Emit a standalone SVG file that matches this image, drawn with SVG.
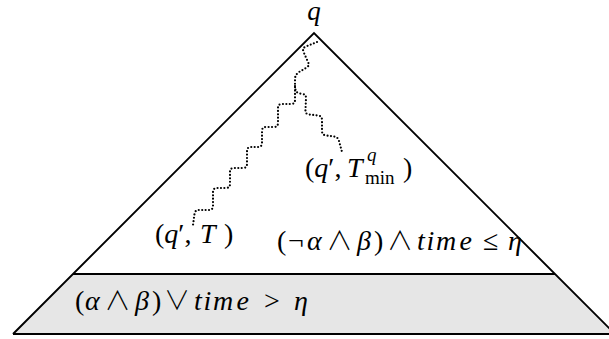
<svg xmlns="http://www.w3.org/2000/svg" width="609" height="339" viewBox="0 0 609 339">
<style>
.edge{fill:none;stroke:#000;stroke-width:1.9;stroke-linejoin:miter}
.band{fill:#e6e6e6;stroke:none}
.wave{fill:none;stroke:#000;stroke-width:2.2;stroke-linecap:round;stroke-linejoin:round;stroke-dasharray:0 3.4}
text{font-family:"Liberation Serif","Times New Roman",serif;font-size:28px;fill:#000}
.i{font-style:italic}
.s{font-size:19px}
.op{font-family:"Noto Sans CJK JP","Noto Sans CJK SC","DejaVu Serif",serif;font-weight:300;font-size:26px}
</style>
<rect width="609" height="339" fill="#fff"/>
<g id="tree">
<polygon class="band" points="73,274 555,274 615,334 13,334"/>
<polyline class="edge" points="13,334 314,33 615,334"/>
<line class="edge" x1="13" y1="334" x2="609" y2="334"/>
<line class="edge" x1="73" y1="274" x2="555" y2="274"/>
</g>
<g id="root">
<text class="i" x="314" y="20" text-anchor="middle" style="font-size:27px">q</text>
</g>
<g id="connectors">
<path class="wave" d="M317,42 L306,46.5 Q302,48 303.5,52 L308,62 Q310,66 306,68 L299,72 Q295,75 295,79 L295,100 Q295,104 291,104 L282,104 Q278,104 278,108 L278,123 Q278,127 274,127 L266,127 Q262,127 262,131 L262,143 Q262,147 258,147 L251,147 Q247,147 247,151 L247,164 Q247,168 243,168 L234,168 Q230,168 230,172 L230,184 Q230,188 226,188 L217,188 Q213,188 213,192 L213,206 Q213,210 209,210 L199,210 Q195,210 194.5,214 L193,225"/>
<path class="wave" d="M295,86 Q295,93 300,93.5 L302,94 Q306,94 306,98 L305.5,110 Q305,114 309,114.5 L318,115.5 Q322,116 322,120 L322,131 Q322,135 326,135.5 L334,136.5 Q338,137 339,141 L342,152"/>
</g>
<g id="node-qT">
<text x="155" y="243">(<tspan class="i">q</tspan>′, <tspan class="i" x="200">T</tspan><tspan x="224">)</tspan></text>
</g>
<g id="node-qTmin">
<text x="305" y="177">(<tspan class="i">q</tspan>′, <tspan class="i" x="347">T</tspan></text>
<text class="s i" x="367" y="161">q</text>
<text class="s" x="365" y="184">min</text>
<text x="403" y="177">)</text>
</g>
<g id="label-upper">
<text y="250"><tspan x="277">(</tspan><tspan x="288">¬</tspan><tspan class="i" x="307">α</tspan><tspan class="op" x="326.5">∧</tspan><tspan class="i" x="357">β</tspan><tspan x="374">)</tspan><tspan class="op" x="387">∧</tspan><tspan class="i" x="417 426.5 436 459.5">time</tspan><tspan x="483">≤</tspan><tspan class="i" x="508">η</tspan></text>
</g>
<g id="label-lower">
<text y="310"><tspan x="75">(</tspan><tspan class="i" x="85">α</tspan><tspan class="op" x="104.5">∧</tspan><tspan class="i" x="135">β</tspan><tspan x="152">)</tspan><tspan class="op" x="164">∨</tspan><tspan class="i" x="194 203.5 213 236.5">time</tspan><tspan x="264">&gt;</tspan><tspan class="i" x="294">η</tspan></text>
</g>
</svg>
